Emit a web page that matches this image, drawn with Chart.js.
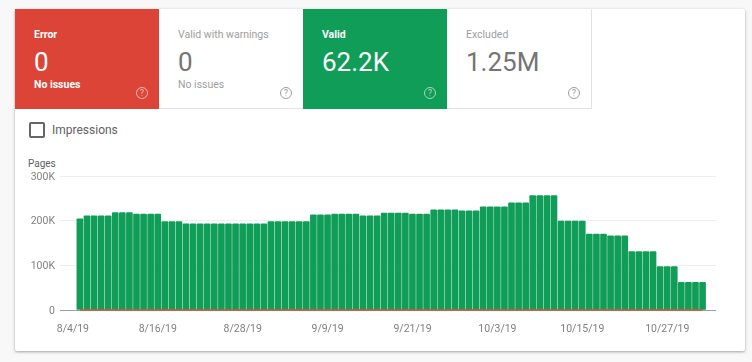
<!DOCTYPE html>
<html lang="en">
<head>
  <meta charset="UTF-8">
  <title>Coverage</title>
  <script src="https://cdn.jsdelivr.net/npm/chart.js"></script>
  <style>
    html, body { margin: 0; padding: 0; width: 752px; height: 362px; overflow: hidden; background: #f8f8f8; font-family: Roboto, sans-serif; }
    .card { position: absolute; left: 15px; top: 9px; width: 730px; height: 342px; background: #fff; border-radius: 2px; box-shadow: 0 1px 3px rgba(0,0,0,.35); }
    .tile { position: absolute; top: 0; width: 144px; height: 100px; box-sizing: border-box; color: #757575; border-bottom: 1px solid #e3e3e3; }
    .tile.red { background: #db4437; color: #fff; border-bottom: 0; }
    .tile.green { background: #0f9d58; color: #fff; border-bottom: 0; }
    .tile .name { position: absolute; left: 19px; top: 19px; font-size: 10.5px; line-height: 13px; color: #9e9e9e; }
    .tile .num { position: absolute; left: 19px; top: 36px; font-size: 26px; line-height: 34px; }
    .tile .sub { position: absolute; left: 19px; top: 69px; font-size: 10.5px; line-height: 13px; color: #9e9e9e; }
    .tile.red .name, .tile.red .sub, .tile.green .name { color: #fff; font-weight: 700; }
    .help { position: absolute; left: 121px; top: 78px; width: 10px; height: 10px; border: 1px solid #9e9e9e; border-radius: 50%; font-size: 9px; line-height: 10px; text-align: center; color: #9e9e9e; }
    .red .help, .green .help { border-color: rgba(255,255,255,.6); color: rgba(255,255,255,.6); }
    .check { position: absolute; left: 14px; top: 113px; width: 12px; height: 12px; border: 2px solid #666; border-radius: 2px; }
    .imp { position: absolute; left: 37px; top: 113px; font-size: 12px; line-height: 16px; color: #616161; }
    .pages { position: absolute; left: 13px; top: 149px; font-size: 10px; line-height: 12px; color: #616161; }
    #coverageChart { position: absolute; left: 0; top: 150px; }
  </style>
</head>
<body>
  <div class="card">
    <div class="tile red" style="left:0"><div class="name">Error</div><div class="num">0</div><div class="sub">No issues</div><div class="help">?</div></div>
    <div class="tile" style="left:144px"><div class="name">Valid with warnings</div><div class="num">0</div><div class="sub">No issues</div><div class="help">?</div></div>
    <div class="tile green" style="left:288px"><div class="name">Valid</div><div class="num">62.2K</div><div class="help">?</div></div>
    <div class="tile" style="left:432px;width:145px;border-right:1px solid #e3e3e3"><div class="name">Excluded</div><div class="num">1.25M</div><div class="help">?</div></div>
    <div class="check"></div>
    <div class="imp">Impressions</div>
    <div class="pages">Pages</div>
  </div>
  <canvas id="coverageChart" width="752" height="190"></canvas>
  <script>
    const dates = [
      "8/4/19","8/5/19","8/6/19","8/7/19","8/8/19","8/9/19","8/10/19","8/11/19","8/12/19","8/13/19","8/14/19","8/15/19",
      "8/16/19","8/17/19","8/18/19","8/19/19","8/20/19","8/21/19","8/22/19","8/23/19","8/24/19","8/25/19","8/26/19","8/27/19",
      "8/28/19","8/29/19","8/30/19","8/31/19","9/1/19","9/2/19","9/3/19","9/4/19","9/5/19","9/6/19","9/7/19","9/8/19",
      "9/9/19","9/10/19","9/11/19","9/12/19","9/13/19","9/14/19","9/15/19","9/16/19","9/17/19","9/18/19","9/19/19","9/20/19",
      "9/21/19","9/22/19","9/23/19","9/24/19","9/25/19","9/26/19","9/27/19","9/28/19","9/29/19","9/30/19","10/1/19","10/2/19",
      "10/3/19","10/4/19","10/5/19","10/6/19","10/7/19","10/8/19","10/9/19","10/10/19","10/11/19","10/12/19","10/13/19","10/14/19",
      "10/15/19","10/16/19","10/17/19","10/18/19","10/19/19","10/20/19","10/21/19","10/22/19","10/23/19","10/24/19","10/25/19","10/26/19",
      "10/27/19","10/28/19","10/29/19","10/30/19","10/31/19"
    ];
    const validPages = [
      204000,211000,211000,211000,211000,218000,218000,218000,215000,215000,215000,215000,
      198000,198000,198000,193000,193000,193000,193000,193000,193000,193000,193000,193000,
      193000,193000,193000,198000,198000,198000,198000,198000,198000,213000,213000,213000,
      215000,215000,215000,215000,211000,211000,211000,217000,217000,217000,217000,215000,
      215000,215000,224000,224000,224000,224000,222000,222000,222000,231000,231000,231000,
      231000,240000,240000,240000,256000,256000,256000,256000,199000,199000,199000,199000,
      170000,170000,170000,166000,166000,166000,130600,130600,130600,130600,97000,97000,
      97000,62200,62200,62200,62200
    ];
    const errorPages = dates.map(() => 0);
    const yTicks = [0, 100000, 200000, 300000];
    const yTickLabels = ["0", "100K", "200K", "300K"];

    const toPoints = (values) => values.map((v, i) => ({ x: i, y: v }));

    new Chart(document.getElementById('coverageChart'), {
      type: 'bar',
      data: {
        datasets: [
          {
            type: 'line',
            label: 'Error',
            data: toPoints(errorPages),
            borderColor: '#c8502c',
            borderWidth: 1.5,
            pointRadius: 0,
            clip: false,
            order: 0
          },
          {
            label: 'Valid',
            data: toPoints(validPages),
            backgroundColor: '#0f9d58',
            barThickness: 6,
            borderRadius: { topLeft: 1, topRight: 1 },
            borderSkipped: 'bottom',
            order: 1
          }
        ]
      },
      options: {
        responsive: false,
        animation: false,
        layout: { padding: { top: 26, right: 36, left: 0, bottom: 0 } },
        plugins: { legend: { display: false }, tooltip: { enabled: false } },
        scales: {
          x: {
            type: 'linear',
            offset: false,
            min: -2.81,
            max: 89.9,
            grid: { display: false },
            border: { display: false },
            afterBuildTicks: (scale) => {
              scale.ticks = dates.map((d, i) => ({ value: i })).filter((t) => t.value % 12 === 0);
            },
            afterFit: (scale) => { scale.height = 30; },
            ticks: {
              autoSkip: false,
              maxRotation: 0,
              padding: 5,
              labelOffset: -7,
              color: '#808080',
              font: { family: 'Roboto', size: 10.5 },
              callback: (value) => dates[value]
            }
          },
          y: {
            min: 0,
            max: 300000,
            afterBuildTicks: (scale) => {
              scale.ticks = yTicks.map((v) => ({ value: v }));
            },
            afterFit: (scale) => { scale.width = 60; },
            grid: {
              drawTicks: false,
              color: (ctx) => (ctx.tick.value === 0 ? '#9e9e9e' : '#eeeeee')
            },
            border: { display: false },
            ticks: {
              padding: 5,
              labelOffset: 1,
              color: '#808080',
              font: { family: 'Roboto', size: 10.5 },
              callback: (value) => yTickLabels[yTicks.indexOf(value)]
            }
          }
        }
      }
    });
  </script>
</body>
</html>
